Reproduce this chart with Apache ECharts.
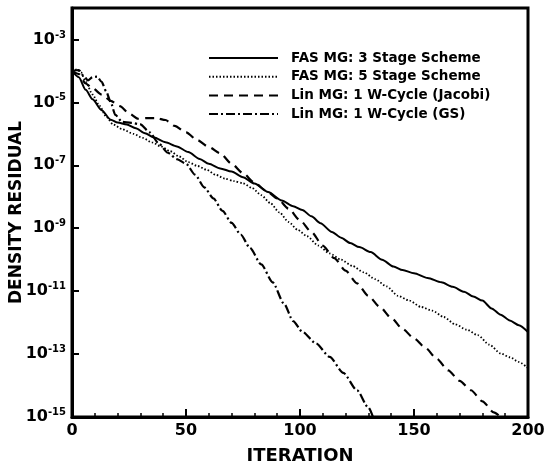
<!DOCTYPE html>
<html>
<head>
<meta charset="utf-8">
<script src="https://cdn.jsdelivr.net/npm/echarts@6/dist/echarts.min.js"></script>
<style>html,body{margin:0;padding:0;background:#fff}#c{width:545px;height:466px}</style>
</head>
<body>
<div id="c"></div>
<script>
// Series names
const seriesNames = ['FAS MG: 3 Stage Scheme', 'FAS MG: 5 Stage Scheme', 'Lin MG: 1 W-Cycle (Jacobi)', 'Lin MG: 1 W-Cycle (GS)'];

// FAS MG: 3 Stage Scheme (solid)
const fas3Iter = [0,3,6,9,13,17,20,24,28,32,36,41,46,51,56,60,65,70,75,80,86,92,97,101,105,109,114,118,122,126,131,136,141,145,150,156,162,167,172,176,180,184,188,192,196,200];
const fas3Res = [1.0e-4,6.31e-5,2.51e-5,1.26e-5,5.62e-6,2.82e-6,2.29e-6,2.0e-6,1.51e-6,1.05e-6,7.59e-7,5.37e-7,3.98e-7,2.63e-7,1.58e-7,1.12e-7,7.94e-8,6.31e-8,4.17e-8,2.63e-8,1.41e-8,7.59e-9,5.01e-9,3.80e-9,2.40e-9,1.45e-9,7.59e-10,5.01e-10,3.39e-10,2.51e-10,1.74e-10,1.0e-10,6.03e-11,4.68e-11,3.72e-11,2.63e-11,1.91e-11,1.38e-11,9.55e-12,6.76e-12,5.01e-12,2.82e-12,1.78e-12,1.17e-12,8.32e-13,5.01e-13];

// FAS MG: 5 Stage Scheme (dotted)
const fas5Iter = [0,2,4,6,9,12,15,18,22,27,31,35,39,43,47,51,55,59,63,67,71,75,79,83,87,91,95,99,103,108,113,118,123,128,133,138,143,148,153,158,163,168,173,178,183,188,192,196,200];
const fas5Res = [9.55e-5,1.12e-4,8.91e-5,4.47e-5,1.78e-5,7.94e-6,3.55e-6,2.0e-6,1.41e-6,1.0e-6,7.41e-7,5.37e-7,3.98e-7,2.82e-7,1.91e-7,1.26e-7,9.55e-8,7.24e-8,5.01e-8,3.80e-8,3.16e-8,2.69e-8,1.91e-8,1.12e-8,6.31e-9,3.16e-9,1.58e-9,8.91e-10,5.62e-10,2.82e-10,1.58e-10,1.0e-10,6.31e-11,3.98e-11,2.40e-11,1.41e-11,7.08e-12,5.01e-12,3.16e-12,2.40e-12,1.51e-12,8.91e-13,6.03e-13,3.98e-13,2.0e-13,1.05e-13,7.94e-14,5.62e-14,3.55e-14];

// Lin MG: 1 W-Cycle (Jacobi) (dashed)
const jacIter = [0,3,6,9,13,17,21,25,29,33,37,41,45,50,55,60,65,70,75,80,85,90,95,100,105,110,115,120,125,130,135,140,145,150,155,160,165,170,175,180,185,188];
const jacRes = [1.0e-4,7.94e-5,3.98e-5,2.82e-5,1.78e-5,1.12e-5,7.59e-6,4.47e-6,3.02e-6,3.16e-6,3.16e-6,2.75e-6,1.78e-6,1.12e-6,6.31e-7,3.80e-7,2.40e-7,1.12e-7,5.62e-8,2.82e-8,1.58e-8,8.91e-9,4.17e-9,1.78e-9,7.59e-10,2.82e-10,1.12e-10,4.47e-11,1.78e-11,7.08e-12,3.16e-12,1.41e-12,6.31e-13,3.16e-13,1.58e-13,7.08e-14,3.02e-14,1.41e-14,7.08e-15,3.16e-15,1.41e-15,1.0e-15];

// Lin MG: 1 W-Cycle (GS) (dash-dot)
const gsIter = [0,3,5,7,9,11,13,15,17,19,22,26,30,34,38,42,46,50,54,58,62,66,70,74,78,83,88,93,97,101,107,113,119,125,130,132];
const gsRes = [1.0e-4,1.07e-4,7.08e-5,5.01e-5,6.31e-5,6.61e-5,4.47e-5,2.24e-5,1.0e-5,3.98e-6,2.40e-6,2.24e-6,2.0e-6,1.12e-6,5.01e-7,2.51e-7,1.58e-7,1.12e-7,5.01e-8,2.0e-8,8.91e-9,3.55e-9,1.48e-9,6.31e-10,2.40e-10,7.08e-11,1.91e-11,3.98e-12,1.12e-12,5.13e-13,2.19e-13,8.13e-14,2.51e-14,7.08e-15,2.0e-15,1.0e-15];

// Axis settings
const xTicks = [0, 50, 100, 150, 200];
const yMin = 1e-15, yMax = 1e-2;

const FONT = 'DejaVu Sans';
const zip = (a, b) => a.map((v, i) => [v, b[i]]);

const chart = echarts.init(document.getElementById('c'), null, {renderer: 'canvas'});
const lineTypes = ['solid', [1.5, 2], [9, 6], [9, 3, 2, 3]];
const lineWidths = [2, 1.8, 2.2, 2.2];
const datas = [zip(fas3Iter, fas3Res), zip(fas5Iter, fas5Res), zip(jacIter, jacRes), zip(gsIter, gsRes)];

chart.setOption({
  animation: false,
  backgroundColor: '#fff',
  grid: {left: 72, right: 17, top: 8, bottom: 49, show: true, borderColor: '#000', borderWidth: 3, containLabel: false, outerBoundsMode: 'none'},
  legend: {
    orient: 'vertical', left: 203, top: 46, itemWidth: 69, itemHeight: 14, itemGap: 4.7,
    itemStyle: {opacity: 0},
    textStyle: {fontFamily: FONT, fontWeight: 'bold', fontSize: 13.5, color: '#000', padding: [0, 0, 0, 8]},
    data: seriesNames
  },
  xAxis: {
    type: 'value', min: xTicks[0], max: xTicks[xTicks.length - 1], interval: 50,
    name: 'ITERATION', nameLocation: 'middle', nameGap: 30, nameMoveOverlap: false,
    nameTextStyle: {fontFamily: FONT, fontWeight: 'bold', fontSize: 18, color: '#000'},
    axisLine: {lineStyle: {color: '#000', width: 3}},
    axisTick: {inside: true, length: 8, lineStyle: {color: '#000', width: 2}},
    minorTick: {show: true, splitNumber: 5, length: 4, lineStyle: {color: '#000', width: 1.5}},
    axisLabel: {fontFamily: FONT, fontWeight: 'bold', fontSize: 16, color: '#000', margin: 6},
    splitLine: {show: false}
  },
  yAxis: {
    type: 'log', logBase: 10, min: yMin, max: yMax, interval: 2,
    name: 'DENSITY RESIDUAL', nameLocation: 'middle', nameGap: 47, nameMoveOverlap: false,
    nameTextStyle: {fontFamily: FONT, fontWeight: 'bold', fontSize: 17, color: '#000'},
    axisLine: {lineStyle: {color: '#000', width: 3}},
    axisTick: {inside: true, length: 7, lineStyle: {color: '#000', width: 2}},
    axisLabel: {
      margin: 6, color: '#000',
      formatter: function (v) {
        const e = Math.round(Math.log10(v));
        if (e % 2 === 0) return '';
        return '{b|10}{s|' + e + '}';
      },
      rich: {
        b: {fontFamily: FONT, fontWeight: 'bold', fontSize: 16, color: '#000'},
        s: {fontFamily: FONT, fontWeight: 'bold', fontSize: 10, color: '#000', padding: [0, 0, 9, 0]}
      }
    },
    splitLine: {show: false}
  },
  series: seriesNames.map((n, i) => ({
    name: n, type: 'line', data: datas[i], showSymbol: false, symbol: 'none',
    smooth: 0.25, smoothMonotone: 'x',
    lineStyle: {color: '#000', width: lineWidths[i], type: lineTypes[i]},
    itemStyle: {color: '#000'}
  }))
});
</script>
</body>
</html>
